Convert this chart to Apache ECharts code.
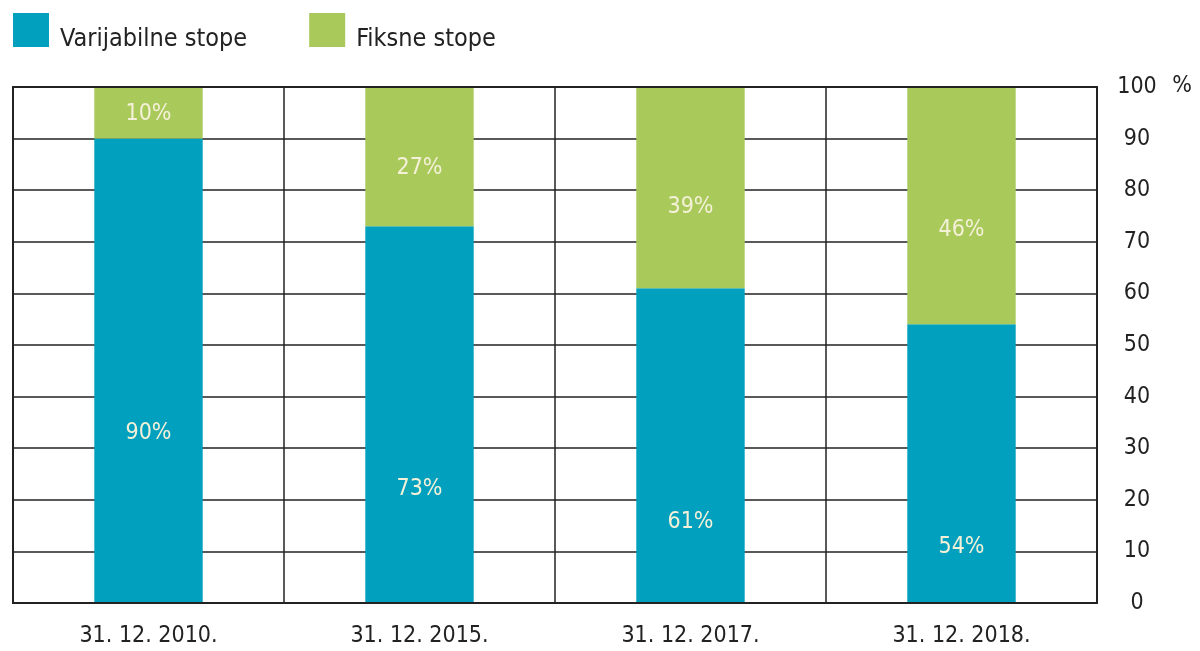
<!DOCTYPE html>
<html>
<head>
<meta charset="utf-8">
<script src="https://cdn.jsdelivr.net/npm/echarts@6/dist/echarts.min.js"></script>
<style>
  html, body { margin: 0; padding: 0; background: #fff; }
  #chart { width: 1200px; height: 651px; }
</style>
</head>
<body>
<div id="chart"></div>
<script>
const categories = ['31. 12. 2010.', '31. 12. 2015.', '31. 12. 2017.', '31. 12. 2018.']
const variableRates = [90, 73, 61, 54]
const fixedRates = [10, 27, 39, 46]
const yTicks = [0, 10, 20, 30, 40, 50, 60, 70, 80, 90, 100]

// labels in the original sit below the segment centre, not in it
const variableLabelShift = [62, 74, 76, 83]
const fixedLabelShift = [1, 11, 19, 24]

const FONT = "'Liberation Sans Narrow', 'DejaVu Sans Condensed', sans-serif"
const chart = echarts.init(document.getElementById('chart'))

function withLabels(values, shifts) {
  return values.map((v, i) => ({ value: v, label: { offset: [0, shifts[i]] } }))
}

const segLabel = {
  show: true,
  position: 'inside',
  formatter: '{c}%',
  color: '#f4f1d8',
  fontFamily: FONT,
  fontSize: 23
}

chart.setOption({
  backgroundColor: '#fff',
  animation: false,
  legend: {
    left: 13,
    top: 13,
    padding: 0,
    itemWidth: 36,
    itemHeight: 34,
    itemGap: 62,
    icon: 'rect',
    formatter: '{t|{name}}',
    textStyle: {
      fontFamily: FONT, fontSize: 25, color: '#222',
      rich: { t: { fontFamily: FONT, fontSize: 25, color: '#222', padding: [18, 0, 0, 6] } }
    },
    data: ['Varijabilne stope', 'Fiksne stope']
  },
  grid: { left: 13, right: 103, top: 87, bottom: 48, containLabel: false },
  xAxis: {
    type: 'category',
    data: categories,
    axisLine: { show: true, lineStyle: { color: '#222', width: 2 } },
    axisTick: { show: false },
    axisLabel: { fontFamily: FONT, fontSize: 23, color: '#222', margin: 22 },
    splitLine: { show: true, interval: 0, lineStyle: { color: '#222', width: 1.5 } }
  },
  yAxis: {
    type: 'value',
    position: 'right',
    min: yTicks[0],
    max: yTicks[yTicks.length - 1],
    interval: 10,
    axisLine: { show: true, lineStyle: { color: '#222', width: 2 } },
    axisTick: { show: false },
    axisLabel: { fontFamily: FONT, fontSize: 23, color: '#222', margin: 40, align: 'center' },
    splitLine: { show: true, lineStyle: { color: '#222', width: 1.5 } }
  },
  graphic: [{
    type: 'text',
    right: 8,
    top: 75,
    style: { text: '%', fontFamily: FONT, fontSize: 23, fill: '#222' }
  }, {
    type: 'rect',
    shape: { x: 13, y: 87, width: 1084, height: 516 },
    style: { fill: 'none', stroke: '#222', lineWidth: 2 },
    z: 10
  }],
  series: [
    {
      name: 'Varijabilne stope',
      type: 'bar',
      stack: 'total',
      barWidth: '40%',
      data: withLabels(variableRates, variableLabelShift),
      itemStyle: { color: '#00a0be' },
      label: segLabel
    },
    {
      name: 'Fiksne stope',
      type: 'bar',
      stack: 'total',
      barWidth: '40%',
      data: withLabels(fixedRates, fixedLabelShift),
      itemStyle: { color: '#a9c95b' },
      label: segLabel
    }
  ]
})
</script>
</body>
</html>
